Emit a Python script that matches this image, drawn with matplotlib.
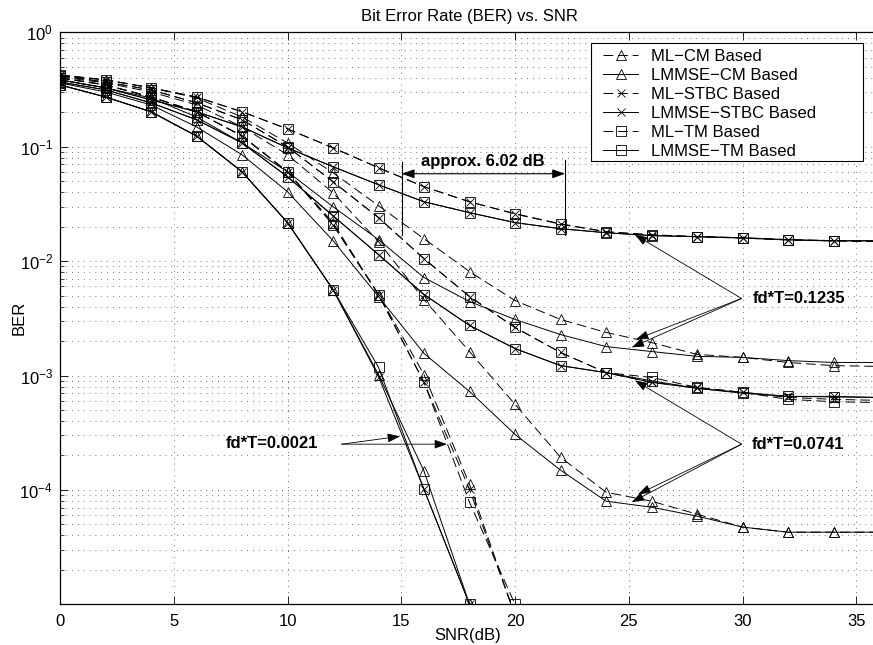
import numpy as np
import matplotlib
matplotlib.use("Agg")
import matplotlib.pyplot as plt
from matplotlib.patches import Rectangle
from matplotlib.ticker import FixedLocator, LogLocator, NullFormatter, FuncFormatter

plt.rcParams["font.family"] = ["Liberation Sans", "DejaVu Sans"]
plt.rcParams["mathtext.fontset"] = "custom"
plt.rcParams["mathtext.rm"] = "Liberation Sans"
plt.rcParams["mathtext.it"] = "Liberation Sans:italic"
plt.rcParams["mathtext.bf"] = "Liberation Sans:bold"

nan = np.nan

# SNR grid (dB)
snr_db = np.arange(0, 38, 2)

# ---------------- fd*T = 0.1235 ----------------
ml_cm_1235 = [0.416, 0.384, 0.327, 0.267, 0.182, 0.108, 0.0592, 0.0305, 0.0157, 0.0081,
              0.00452, 0.00309, 0.00238, 0.00194, 0.00153, 0.00144, 0.00130, 0.00122, 0.00120]
lmmse_cm_1235 = [0.384, 0.327, 0.267, 0.182, 0.108, 0.0604, 0.0299, 0.0154, 0.00718, 0.00443,
                 0.00309, 0.00228, 0.00179, 0.00162, 0.00147, 0.00144, 0.00135, 0.00130, 0.00130]
ml_stbc_1235 = [0.424, 0.384, 0.327, 0.272, 0.202, 0.143, 0.0978, 0.0655, 0.0447, 0.0330,
                0.0260, 0.0212, 0.0181, 0.0170, 0.0164, 0.0160, 0.0154, 0.0151, 0.0148]
lmmse_stbc_1235 = [0.384, 0.327, 0.257, 0.202, 0.149, 0.0978, 0.0668, 0.0465, 0.0330, 0.0265,
                   0.0217, 0.0192, 0.0177, 0.0167, 0.0164, 0.0160, 0.0154, 0.0151, 0.0151]
ml_tm_1235 = [0.424, 0.384, 0.327, 0.272, 0.202, 0.143, 0.0978, 0.0655, 0.0447, 0.0330,
              0.0258, 0.0210, 0.0180, 0.0169, 0.0163, 0.0159, 0.0153, 0.0150, 0.0148]
lmmse_tm_1235 = [0.384, 0.327, 0.257, 0.202, 0.149, 0.0978, 0.0668, 0.0465, 0.0330, 0.0265,
                 0.0217, 0.0192, 0.0177, 0.0167, 0.0163, 0.0159, 0.0153, 0.0150, 0.0150]

# ---------------- fd*T = 0.0741 ----------------
ml_cm_0741 = [0.407, 0.361, 0.301, 0.232, 0.149, 0.0850, 0.0396, 0.0148, 0.00461, 0.00162,
              0.000560, 0.000193, 9.55e-5, 7.97e-5, 6.14e-5, 4.73e-5, 4.27e-5, 4.27e-5, 4.27e-5]
lmmse_cm_0741 = [0.361, 0.301, 0.232, 0.149, 0.0850, 0.0404, 0.0151, 0.00490, 0.00156, 0.000726,
                 0.000306, 0.000149, 7.97e-5, 7.06e-5, 5.90e-5, 4.73e-5, 4.27e-5, 4.27e-5, 4.27e-5]
ml_stbc_0741 = [0.416, 0.368, 0.314, 0.242, 0.172, 0.0998, 0.0494, 0.0240, 0.0105, 0.00490,
                0.00263, 0.00159, 0.00106, 0.000871, 0.000787, 0.000712, 0.000644, 0.000619, 0.000606]
lmmse_stbc_0741 = [0.368, 0.314, 0.242, 0.172, 0.108, 0.0546, 0.0249, 0.0114, 0.00510, 0.00274,
                   0.00172, 0.00122, 0.00106, 0.000871, 0.000772, 0.000712, 0.000657, 0.000657, 0.000644]
ml_tm_0741 = [0.416, 0.368, 0.314, 0.242, 0.172, 0.0998, 0.0494, 0.0240, 0.0105, 0.00490,
              0.00263, 0.00159, 0.00106, 0.000962, 0.000787, 0.000712, 0.000619, 0.000590, 0.000580]
lmmse_tm_0741 = [0.368, 0.314, 0.242, 0.172, 0.108, 0.0546, 0.0249, 0.0114, 0.00510, 0.00274,
                 0.00172, 0.00122, 0.00106, 0.000900, 0.000772, 0.000700, 0.000657, 0.000650, 0.000640]

# ---------------- fd*T = 0.0021 ----------------
ml_cm_0021 = [0.399, 0.347, 0.272, 0.202, 0.124, 0.0604, 0.0217, 0.00510, 0.00102, 0.000112,
              8e-6, nan, nan, nan, nan, nan, nan, nan, nan]
lmmse_cm_0021 = [0.347, 0.272, 0.202, 0.124, 0.0604, 0.0217, 0.00564, 0.00102, 0.000146, 1.0e-5,
                 nan, nan, nan, nan, nan, nan, nan, nan, nan]
ml_stbc_0021 = [0.399, 0.347, 0.272, 0.202, 0.124, 0.0604, 0.0208, 0.00510, 0.000871, 0.000101,
                8e-6, nan, nan, nan, nan, nan, nan, nan, nan]
lmmse_stbc_0021 = [0.347, 0.272, 0.202, 0.124, 0.0604, 0.0217, 0.00564, 0.00098, 0.000101, 1.0e-5,
                   nan, nan, nan, nan, nan, nan, nan, nan, nan]
ml_tm_0021 = [0.399, 0.347, 0.272, 0.202, 0.124, 0.0604, 0.0208, 0.00510, 0.000871, 7.81e-5,
              1.0e-5, nan, nan, nan, nan, nan, nan, nan, nan]
lmmse_tm_0021 = [0.347, 0.272, 0.202, 0.124, 0.0604, 0.0217, 0.00564, 0.00118, 0.000101, 1.0e-5,
                 nan, nan, nan, nan, nan, nan, nan, nan, nan]

legend_labels = ["ML\u2212CM Based", "LMMSE\u2212CM Based", "ML\u2212STBC Based",
                 "LMMSE\u2212STBC Based", "ML\u2212TM Based", "LMMSE\u2212TM Based"]

groups = [
    [ml_cm_0021, lmmse_cm_0021, ml_stbc_0021, lmmse_stbc_0021, ml_tm_0021, lmmse_tm_0021],
    [ml_cm_0741, lmmse_cm_0741, ml_stbc_0741, lmmse_stbc_0741, ml_tm_0741, lmmse_tm_0741],
    [ml_cm_1235, lmmse_cm_1235, ml_stbc_1235, lmmse_stbc_1235, ml_tm_1235, lmmse_tm_1235],
]

markers = ["^", "^", "x", "x", "s", "s"]
msizes = [7.5, 7.5, 6, 6, 6.5, 6.5]
dashed = [True, False, True, False, True, False]

FS = 12

fig = plt.figure(figsize=(8.73, 6.45), dpi=100)
ax = fig.add_axes([60 / 873, 1 - 604.3 / 645, 819 / 873, 572 / 645])

for gi, group in enumerate(groups):
    for k, series in enumerate(group):
        kw = dict(color="k", lw=0.7, marker=markers[k], ms=msizes[k],
                  mfc="none", mec="k", mew=0.6, zorder=3)
        if dashed[k]:
            kw["dashes"] = (10, 5)
        if gi == 0:
            kw["label"] = legend_labels[k]
        ax.plot(snr_db, series, **kw)

ax.set_yscale("log")
ax.set_xlim(0, 36)
ax.set_ylim(1e-5, 1)

ax.xaxis.set_major_locator(FixedLocator([0, 5, 10, 15, 20, 25, 30, 35]))
ax.yaxis.set_major_locator(FixedLocator([1e-5, 1e-4, 1e-3, 1e-2, 1e-1, 1]))
ax.yaxis.set_minor_locator(LogLocator(base=10, subs=np.arange(2, 10), numticks=20))
ax.yaxis.set_minor_formatter(NullFormatter())


def ylab(v, pos):
    if v < 2e-5:
        return ""
    e = int(round(np.log10(v)))
    return r"$\mathdefault{10^{%d}}$" % e


ax.yaxis.set_major_formatter(FuncFormatter(ylab))

ax.tick_params(which="major", direction="in", length=6, width=0.6, top=True, right=False,
               labelsize=FS, pad=5)
ax.tick_params(which="minor", direction="in", length=3, width=0.5, top=False, right=False)
ax.tick_params(axis="x", which="major", pad=7)

ax.grid(True, which="major", axis="both", color="0.3", lw=0.6, dashes=(1, 6))
ax.grid(True, which="minor", axis="y", color="0.3", lw=0.6, dashes=(1, 6))
ax.set_axisbelow(True)
for s in ax.spines.values():
    s.set_linewidth(0.9)

ax.set_title("Bit Error Rate (BER) vs. SNR", fontsize=FS, pad=8)
ax.set_xlabel("SNR(dB)", fontsize=FS)
ax.set_ylabel("BER", fontsize=FS)
ax.xaxis.set_label_coords(408 / 819, -0.042)
ax.yaxis.set_label_coords(-0.0403, 0.5)

# legend box with a fixed outline, entries placed inside it
box = Rectangle((0.6484, 0.775), 0.9801 - 0.6484, 0.9808 - 0.775, transform=ax.transAxes,
                facecolor="white", edgecolor="k", lw=0.8, zorder=6)
ax.add_patch(box)
leg = ax.legend(loc="upper left", bbox_to_anchor=(0.6634, 0.9708), fontsize=FS,
                frameon=False, handlelength=2.1, handletextpad=0.75, labelspacing=0.235,
                borderpad=0, borderaxespad=0)
leg.set_zorder(7)

# --- annotations ---
bold = dict(fontsize=FS, fontweight="bold")
head = dict(arrowstyle="-|>,head_length=0.45,head_width=0.16", color="k", lw=0.6,
            mutation_scale=17, shrinkA=0, shrinkB=0)
dhead = dict(arrowstyle="<|-|>,head_length=0.45,head_width=0.16", color="k", lw=0.8,
             mutation_scale=17, shrinkA=0, shrinkB=0)

# 6.02 dB gap marker
ax.plot([15.02, 15.02], [0.0738, 0.0170], color="k", lw=0.8, zorder=4)
ax.plot([22.2, 22.2], [0.0760, 0.0170], color="k", lw=0.8, zorder=4)
ax.annotate("", xy=(15.02, 0.058), xytext=(22.2, 0.058), arrowprops=dhead, zorder=5)
ax.text(18.6, 0.0743, "approx. 6.02 dB", ha="center", va="center", **bold)

# fd*T = 0.1235
o1235 = (29.96, 4.71e-3)
ax.text(30.45, 4.71e-3, "fd*T=0.1235", ha="left", va="center", **bold)
for tip in [(25.27, 0.0170), (25.32, 0.00207), (25.13, 0.00176)]:
    ax.annotate("", xy=tip, xytext=o1235, arrowprops=head, zorder=5)

# fd*T = 0.0741
o0741 = (29.96, 2.51e-4)
ax.text(30.42, 2.51e-4, "fd*T=0.0741", ha="left", va="center", **bold)
for tip in [(25.27, 9.06e-4), (25.41, 9.16e-5), (25.13, 7.81e-5)]:
    ax.annotate("", xy=tip, xytext=o0741, arrowprops=head, zorder=5)

# fd*T = 0.0021
o0021 = (12.38, 2.51e-4)
ax.text(11.34, 2.54e-4, "fd*T=0.0021", ha="right", va="center", **bold)
for tip in [(14.95, 2.94e-4), (17.01, 2.51e-4)]:
    ax.annotate("", xy=tip, xytext=o0021, arrowprops=head, zorder=5)

fig.savefig("out.png", dpi=100)
